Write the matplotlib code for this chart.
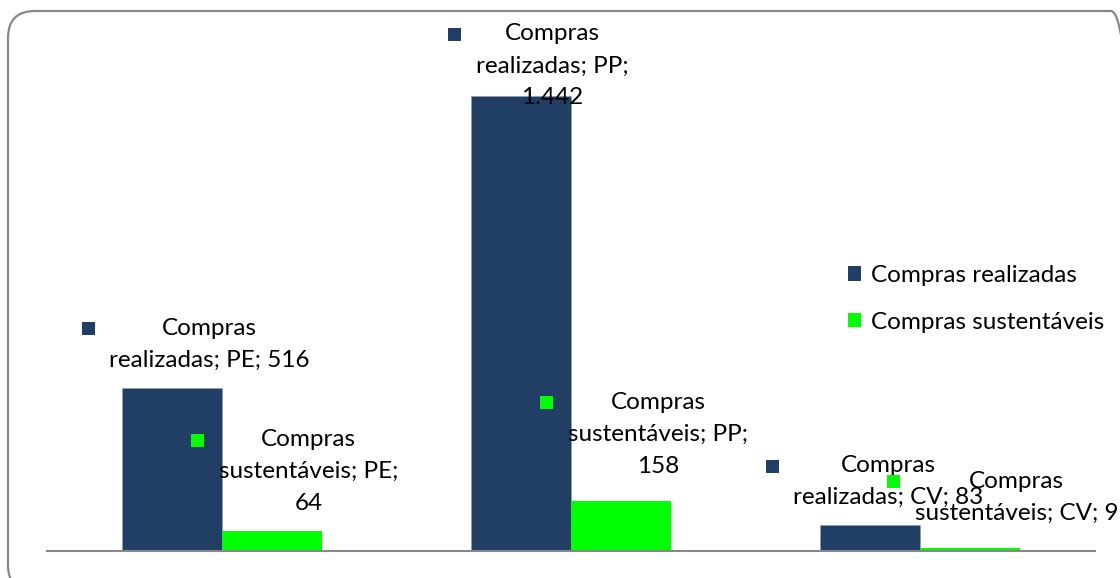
import matplotlib
matplotlib.use("Agg")
import matplotlib.pyplot as plt
import numpy as np
from matplotlib.patches import Patch, Rectangle, FancyBboxPatch
from matplotlib.transforms import IdentityTransform

# --- data ---
categories = ["PE", "PP", "CV"]
series_names = ["Compras realizadas", "Compras sustentáveis"]
realizadas = [516, 1442, 83]
sustentaveis = [64, 158, 9]

# --- style ---
colors = ["#213E65", "#00FF00"]
plt.rcParams["font.family"] = ["Lato", "DejaVu Sans"]
FS = 17.5
LS = 1.64
W, H = 1120, 578
DPI = 100

fig = plt.figure(figsize=(W / DPI, H / DPI), dpi=DPI)
fig.patch.set_facecolor("white")

# rounded outer frame in pixel coordinates (origin bottom-left), runs off the right/bottom edges
pad = 27
ox0, ox1, oy0, oy1 = 8, 1138, -14, H - 11
frame = FancyBboxPatch((ox0 + pad, oy0 + pad), ox1 - ox0 - 2 * pad, oy1 - oy0 - 2 * pad,
                       boxstyle=f"round,pad={pad}", transform=IdentityTransform(),
                       facecolor="none", edgecolor="#888888", linewidth=1.6)
fig.add_artist(frame)

# axes placement
ax_left, ax_right = 47, 1095
ax_bottom, ax_top = 551, 46
ax = fig.add_axes([ax_left / W, 1 - ax_bottom / H,
                   (ax_right - ax_left) / W, (ax_bottom - ax_top) / H])
ax.set_xlim(-0.5, len(categories) - 0.5)
ax.set_ylim(0, 1600)
for s in ["top", "right", "left"]:
    ax.spines[s].set_visible(False)
ax.spines["bottom"].set_color("#888888")
ax.spines["bottom"].set_linewidth(1.5)
ax.set_xticks([])
ax.set_yticks([])
ax.patch.set_alpha(0)

x = np.arange(len(categories))
bw = 0.286
ax.bar(x - bw / 2, realizadas, bw, color=colors[0], edgecolor="#8EA0B8", linewidth=0.4)
ax.bar(x + bw / 2, sustentaveis, bw, color=colors[1], linewidth=0)


def fmt(v):
    return f"{v:,}".replace(",", ".")


# data labels in "series; category; value" form
labels_r = [f"Compras\nrealizadas; {c}; {fmt(v)}" for c, v in zip(categories, realizadas)]
labels_r[1] = f"Compras\nrealizadas; {categories[1]};\n{fmt(realizadas[1])}"
labels_s = [f"Compras\nsustentáveis; {c};\n{fmt(v)}" for c, v in zip(categories, sustentaveis)]
labels_s[2] = f"Compras\nsustentáveis; {categories[2]}; {fmt(sustentaveis[2])}"

# label offsets (pixels) from the top-centre of each bar
offs_r = [(38, 44), (31, 30), (18, 43)]
offs_s = [(37, 59), (37, 67), (46, 51)]

texts = []
for xs, vals, labs, offs, col in [
        (x - bw / 2, realizadas, labels_r, offs_r, colors[0]),
        (x + bw / 2, sustentaveis, labels_s, offs_s, colors[1])]:
    for xi, v, lab, (dx, dy) in zip(xs, vals, labs, offs):
        t = ax.annotate(lab, xy=(xi, v), xytext=(dx, dy), textcoords="offset pixels",
                        ha="center", va="center", fontsize=FS, linespacing=LS,
                        annotation_clip=False, zorder=5)
        texts.append((t, col))

# legend keys beside each label
fig.canvas.draw()
renderer = fig.canvas.get_renderer()
sq = 13
line_h = 32
for t, col in texts:
    bb = t.get_window_extent(renderer)
    cx = bb.x0 - 21
    cy = bb.y1 - line_h / 2 + 5
    fig.add_artist(Rectangle((cx - sq / 2, cy - sq / 2), sq, sq,
                             transform=IdentityTransform(), facecolor=col,
                             edgecolor="none", zorder=6))

handles = [Patch(facecolor=c, edgecolor="none") for c in colors]
fig.legend(handles, series_names, loc="upper left",
           bbox_to_anchor=(848 / W, 1 - 265 / H), frameon=False, fontsize=FS,
           handlelength=0.55, handleheight=0.55, handletextpad=0.4,
           labelspacing=1.06, borderaxespad=0, borderpad=0)

fig.savefig("out.png", dpi=DPI, facecolor="white")
